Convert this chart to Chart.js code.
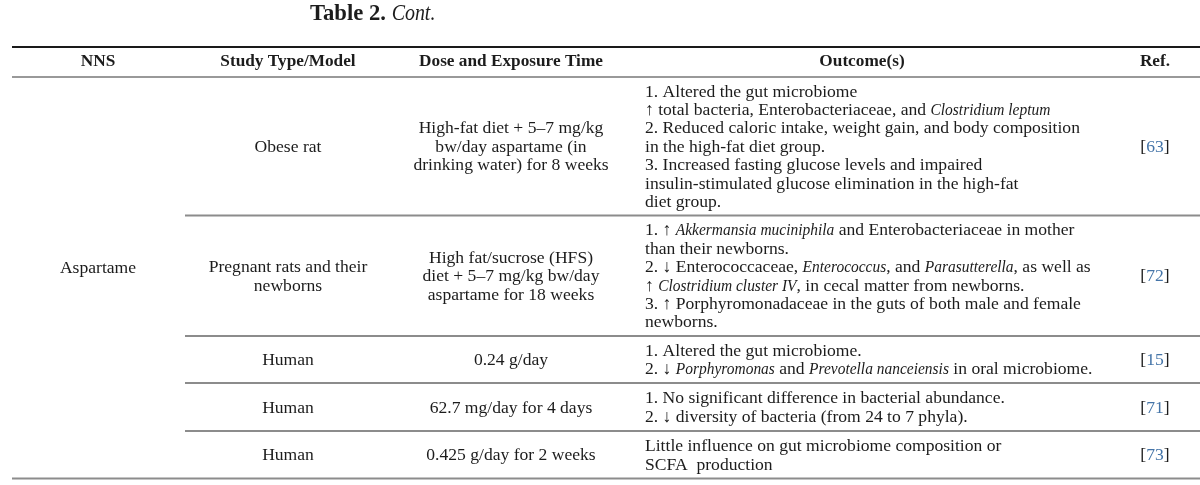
<!DOCTYPE html>
<html><head><meta charset="utf-8">
<script src="https://cdn.jsdelivr.net/npm/chart.js@4.4.1/dist/chart.umd.min.js"></script>
<style>html,body{margin:0;padding:0;background:#fff;}#wrap{width:1200px;height:485px;}</style>
</head><body><div id="wrap"><canvas id="c" width="1200" height="485"></canvas></div>
<script>
// ---- table content ----
const tableTitle = ["Table 2.", "Cont."];
const columnHeaders = ["NNS", "Study Type/Model", "Dose and Exposure Time", "Outcome(s)", "Ref."];
const nnsName = "Aspartame";
const studyModels = [
  ["Obese rat"],
  ["Pregnant rats and their", "newborns"],
  ["Human"],
  ["Human"],
  ["Human"]
];
const doses = [
  ["High-fat diet + 5–7 mg/kg", "bw/day aspartame (in", "drinking water) for 8 weeks"],
  ["High fat/sucrose (HFS)", "diet + 5–7 mg/kg bw/day", "aspartame for 18 weeks"],
  ["0.24 g/day"],
  ["62.7 mg/day for 4 days"],
  ["0.425 g/day for 2 weeks"]
];
// *...* marks italic runs
const outcomes = [
  ["1. Altered the gut microbiome",
   "↑ total bacteria, Enterobacteriaceae, and *Clostridium leptum*",
   "2. Reduced caloric intake, weight gain, and body composition",
   "in the high-fat diet group.",
   "3. Increased fasting glucose levels and impaired",
   "insulin-stimulated glucose elimination in the high-fat",
   "diet group."],
  ["1. ↑ *Akkermansia muciniphila* and Enterobacteriaceae in mother",
   "than their newborns.",
   "2. ↓ Enterococcaceae, *Enterococcus*, and *Parasutterella*, as well as",
   "↑ *Clostridium cluster IV*, in cecal matter from newborns.",
   "3. ↑ Porphyromonadaceae in the guts of both male and female",
   "newborns."],
  ["1. Altered the gut microbiome.",
   "2. ↓ *Porphyromonas* and *Prevotella nanceiensis* in oral microbiome."],
  ["1. No significant difference in bacterial abundance.",
   "2. ↓ diversity of bacteria (from 24 to 7 phyla)."],
  ["Little influence on gut microbiome composition or",
   "SCFA  production"]
];
const refs = ["63", "72", "15", "71", "73"];

// ---- layout (page units, mapped through the chart's scales) ----
const layout = {
  titleX: 310, titleY: 14,
  topRule: 47, headRule: 77, headY: 62,
  rowEdges: [77, 215.5, 336, 383, 431, 478.5],
  left: 12, right: 1200, sepLeft: 185,
  colCenters: [98, 288, 511, 862, 1155],
  outcomeLeft: 645,
  lineH: 18.4, textShift: 1
};
const FAMILY = '"Liberation Serif", "Times New Roman", serif';
const TEXT = '#1c1c1c', RULE = '#8c8c8c', REFBLUE = '#4474a8';
const ITALIC_SQUEEZE = 0.88;

function fitSize(ctx, style, sample, target) {
  ctx.font = style + ' 100px ' + FAMILY;
  return 100 * target / ctx.measureText(sample).width;
}

const tablePlugin = {
  id: 'tablePlugin',
  afterDraw(chart) {
    const ctx = chart.ctx, xs = chart.scales.x, ys = chart.scales.y;
    const X = v => xs.getPixelForValue(v), Y = v => ys.getPixelForValue(v);
    const body = fitSize(ctx, '', "2. Reduced caloric intake, weight gain, and body composition", 435);
    const head = fitSize(ctx, 'bold', "Dose and Exposure Time", 184);
    const ttl = fitSize(ctx, 'bold', "Table 2.", 76);
    ctx.save();
    ctx.textBaseline = 'middle';
    ctx.fillStyle = TEXT;

    function runs(str) {
      return str.split('*').map((t, i) => ({t, it: i % 2 === 1})).filter(r => r.t.length);
    }
    function runW(r) { return ctx.measureText(r.t).width * (r.it ? ITALIC_SQUEEZE : 1); }
    function setF(r, size, weight) {
      ctx.font = (r.it ? 'italic ' : '') + (weight || '') + ' ' + size + 'px ' + FAMILY;
    }
    function width(str, size, weight) {
      let w = 0;
      for (const r of runs(str)) { setF(r, size, weight); w += runW(r); }
      return w;
    }
    function draw(str, x, y, size, align, weight) {
      let cx = align === 'center' ? x - width(str, size, weight) / 2 : x;
      ctx.textAlign = 'left';
      for (const r of runs(str)) {
        setF(r, size, weight);
        if (r.it) {
          ctx.save(); ctx.translate(cx, y); ctx.scale(ITALIC_SQUEEZE, 1);
          ctx.fillText(r.t, 0, 0); ctx.restore();
        } else {
          ctx.fillText(r.t, cx, y);
        }
        cx += runW(r);
      }
    }
    function block(lines, x, top, bottom, size, align) {
      const mid = (top + bottom) / 2 + layout.textShift;
      const first = mid - (lines.length - 1) * layout.lineH / 2;
      lines.forEach((ln, i) => draw(ln, X(x), Y(first + i * layout.lineH), size, align));
    }

    // title
    ctx.font = 'bold ' + ttl + 'px ' + FAMILY;
    ctx.textAlign = 'left';
    ctx.fillText(tableTitle[0], X(layout.titleX), Y(layout.titleY));
    const tw = ctx.measureText(tableTitle[0] + ' ').width;
    ctx.font = 'italic ' + ttl + 'px ' + FAMILY;
    ctx.save(); ctx.translate(X(layout.titleX) + tw, Y(layout.titleY)); ctx.scale(ITALIC_SQUEEZE, 1);
    ctx.fillText(tableTitle[1], 0, 0); ctx.restore();

    // rules
    function rule(y, x0, x1, w, c) {
      ctx.beginPath(); ctx.lineWidth = w; ctx.strokeStyle = c;
      ctx.moveTo(X(x0), Y(y)); ctx.lineTo(X(x1), Y(y)); ctx.stroke();
    }
    rule(layout.topRule, layout.left, layout.right, 2, '#1a1a1a');
    rule(layout.headRule, layout.left, layout.right, 1.6, '#777');
    const e = layout.rowEdges;
    for (let i = 1; i < e.length - 1; i++) rule(e[i], layout.sepLeft, layout.right, 1.8, RULE);
    rule(e[e.length - 1], layout.left, layout.right, 1.8, RULE);

    // headers
    columnHeaders.forEach((h, i) => {
      ctx.font = 'bold ' + head + 'px ' + FAMILY;
      ctx.textAlign = 'center'; ctx.fillStyle = TEXT;
      ctx.fillText(h, X(layout.colCenters[i]), Y(layout.headY));
    });

    // NNS spanning cell
    ctx.textAlign = 'center';
    ctx.font = body + 'px ' + FAMILY;
    ctx.fillText(nnsName, X(layout.colCenters[0]), Y((e[0] + e[e.length - 1]) / 2 - 9));

    // rows
    for (let r = 0; r < studyModels.length; r++) {
      const top = e[r], bot = e[r + 1];
      block(studyModels[r], layout.colCenters[1], top, bot, body, 'center');
      block(doses[r], layout.colCenters[2], top, bot, body, 'center');
      block(outcomes[r], layout.outcomeLeft, top, bot, body, 'left');
      ctx.font = body + 'px ' + FAMILY;
      const parts = ['[', refs[r], ']'];
      const total = parts.reduce((s, p) => s + ctx.measureText(p).width, 0);
      let cx = X(layout.colCenters[4]) - total / 2;
      const cy = Y((top + bot) / 2 + layout.textShift);
      ctx.textAlign = 'left';
      parts.forEach((p, i) => {
        ctx.fillStyle = i === 1 ? REFBLUE : TEXT;
        ctx.fillText(p, cx, cy);
        cx += ctx.measureText(p).width;
      });
      ctx.fillStyle = TEXT;
    }
    ctx.restore();
  }
};

new Chart(document.getElementById('c'), {
  type: 'scatter',
  data: { datasets: [{ data: [], showLine: false }] },
  options: {
    responsive: false, animation: false, devicePixelRatio: 1,
    layout: { padding: 0 },
    scales: {
      x: { type: 'linear', min: 0, max: 1200, display: false },
      y: { type: 'linear', min: 0, max: 485, reverse: true, display: false }
    },
    plugins: { legend: { display: false }, tooltip: { enabled: false }, title: { display: false } }
  },
  plugins: [tablePlugin]
});
</script></body></html>
